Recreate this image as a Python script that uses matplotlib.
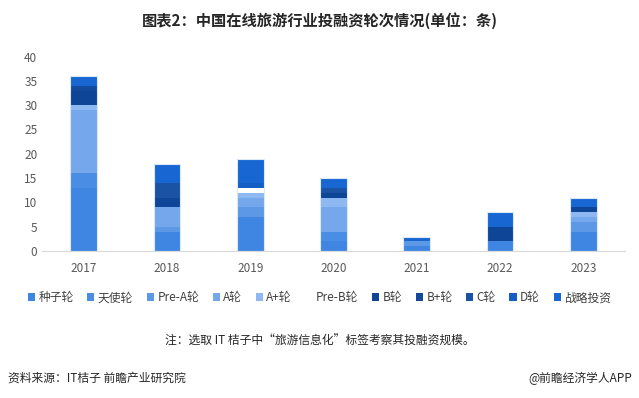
import numpy as np
import matplotlib
matplotlib.use("Agg")
import matplotlib.pyplot as plt

plt.rcParams['font.family'] = ['Noto Sans CJK SC', 'DejaVu Sans']

# data (counts per round)
years = ['2017', '2018', '2019', '2020', '2021', '2022', '2023']
rounds = ['种子轮', '天使轮', 'Pre-A轮', 'A轮', 'A+轮', 'Pre-B轮',
          'B轮', 'B+轮', 'C轮', 'D轮', '战略投资']
seed     = [13, 4, 7, 2, 1, 2, 4]
angel    = [3, 0, 0, 2, 0, 0, 0]
pre_a    = [0, 1, 2, 0, 1, 0, 2]
a_round  = [13, 4, 2, 5, 0, 0, 1]
a_plus   = [1, 0, 1, 2, 0, 0, 1]
pre_b    = [0, 0, 1, 0, 0, 0, 0]
b_round  = [3, 2, 0, 1, 0, 3, 1]
b_plus   = [1, 0, 0, 0, 0, 0, 0]
c_round  = [0, 3, 0, 1, 0, 0, 0]
d_round  = [0, 0, 1, 0, 0, 0, 0]
strategy = [2, 4, 5, 2, 1, 3, 2]

series = [seed, angel, pre_a, a_round, a_plus, pre_b,
          b_round, b_plus, c_round, d_round, strategy]
colors = ['#3F86E2', '#4A8DE4', '#5C98E6', '#74A7EC', '#8DB8F1', '#FFFFFF',
          '#0E4596', '#134A9C', '#1A52A4', '#155FC4', '#1766D2']

fig = plt.figure(figsize=(6.39, 3.98), dpi=100)
ax = fig.add_axes([0.066, 0.369, 0.912, 0.489])

x = np.arange(len(years))
bottom = np.zeros(len(years))
for name, vals, col in zip(rounds, series, colors):
    ax.bar(x, vals, 0.32, bottom=bottom, color=col, label=name, linewidth=0)
    bottom += np.array(vals)
# faint light outline around each whole bar
ax.bar(x, bottom, 0.32, fill=False, edgecolor='#DCE8F8', linewidth=0.8)

ax.set_ylim(0, 40)
ax.set_yticks(range(0, 41, 5))
ax.set_xlim(-0.5, len(years) - 0.5)
ax.set_xticks(x)
ax.set_xticklabels(years)
ax.tick_params(axis='both', length=0, labelsize=8.5, colors='#595959')
ax.tick_params(axis='x', pad=8)
for s in ['top', 'right', 'left']:
    ax.spines[s].set_visible(False)
ax.spines['bottom'].set_color('#D9D9D9')

# legend
handles, labels = ax.get_legend_handles_labels()
handles = handles[:len(rounds)]
labels = labels[:len(rounds)]
fig.legend(handles, labels, loc='center', bbox_to_anchor=(0.5, 0.252),
           ncol=11, frameon=False, fontsize=8.5, handlelength=0.6,
           handleheight=0.6, handletextpad=0.3, columnspacing=1.15,
           labelcolor='#404040')

fig.text(0.5, 0.948, '图表2：中国在线旅游行业投融资轮次情况(单位：条)',
         ha='center', va='center', fontsize=11, fontweight='bold', color='#262626')
fig.text(0.5, 0.143, '注：选取 IT 桔子中“旅游信息化”标签考察其投融资规模。',
         ha='center', va='center', fontsize=8.5, color='#262626')
fig.text(0.012, 0.05, '资料来源：IT桔子 前瞻产业研究院',
         ha='left', va='center', fontsize=8.5, color='#262626')
fig.text(0.99, 0.05, '@前瞻经济学人APP',
         ha='right', va='center', fontsize=8.5, color='#262626')

fig.savefig('out.png', dpi=100)
